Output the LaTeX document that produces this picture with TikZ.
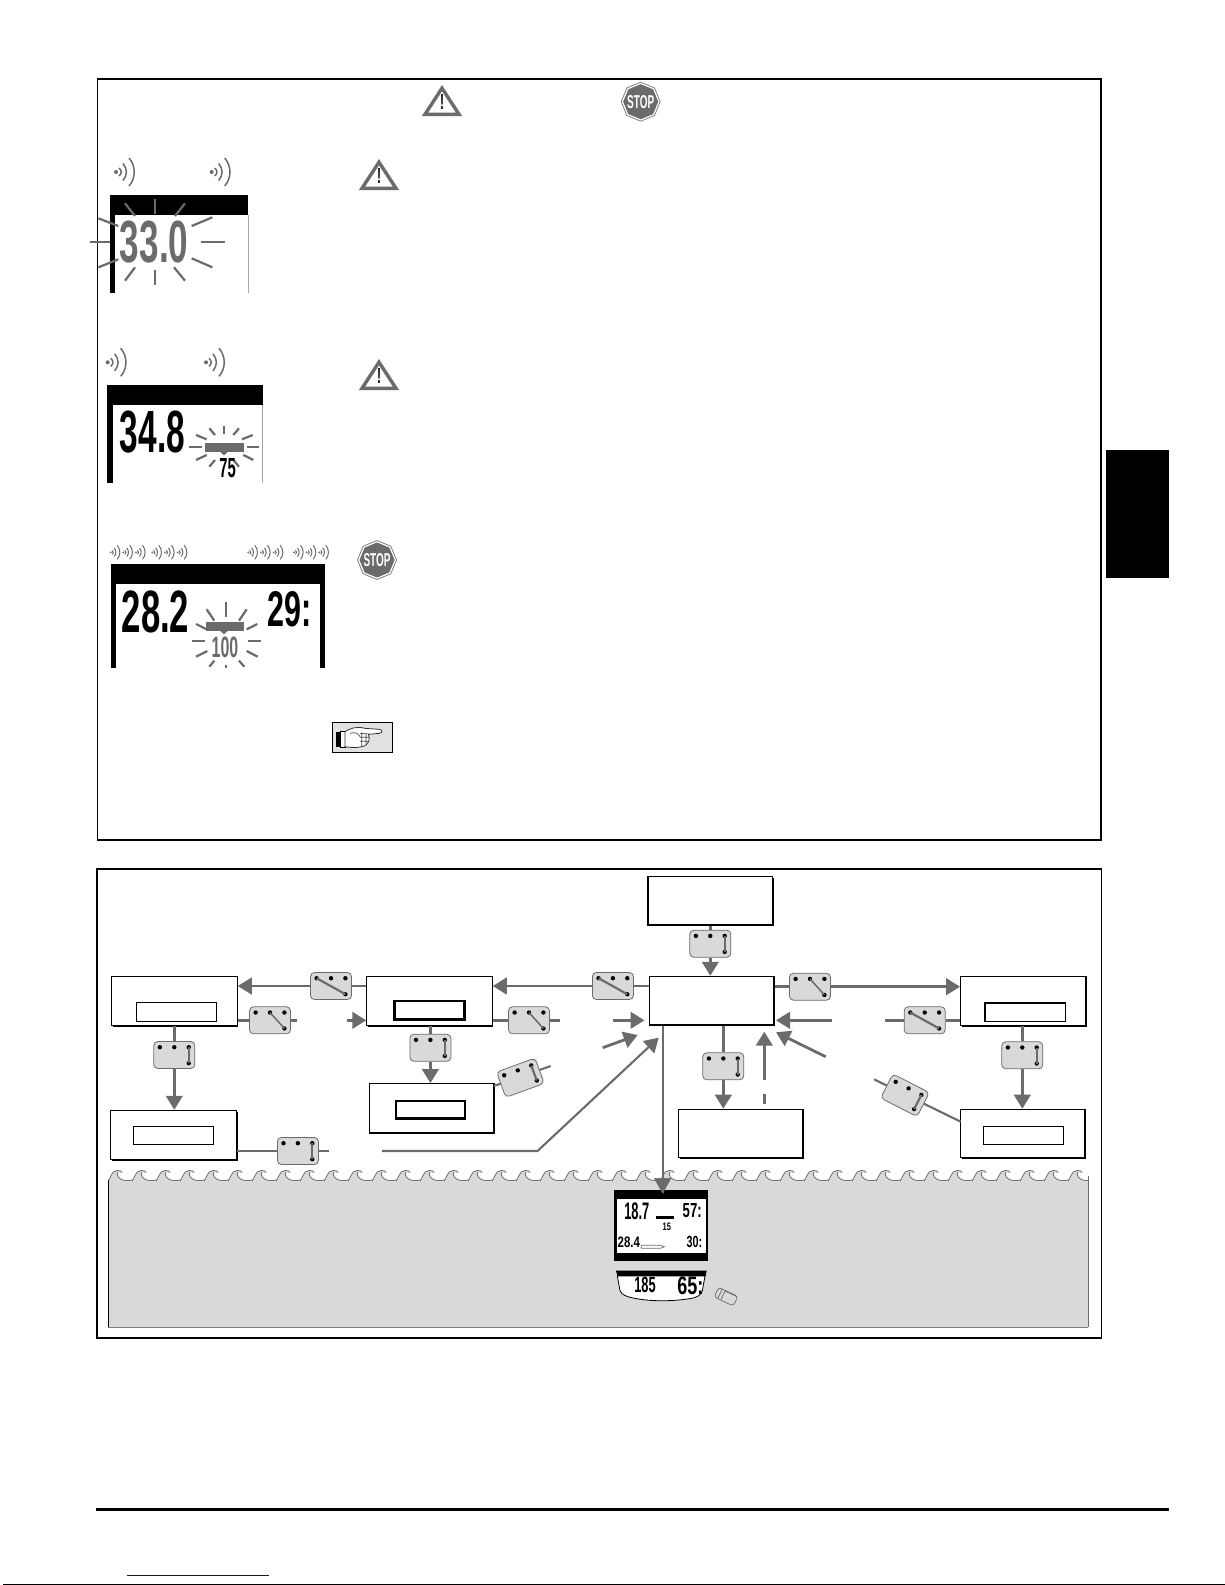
\documentclass[tikz,border=0pt]{standalone}
\usepackage{fontspec}
\setmainfont{Liberation Sans}
\newfontfamily\lcdfont{Liberation Sans}
\usetikzlibrary{arrows.meta,shapes.geometric,shadows}
\definecolor{cgray}{HTML}{6B6B6B}
\definecolor{lgray}{HTML}{D9D9D9}
\tikzset{
  frame/.style={draw=black,line width=1.5pt},
  fbox/.style={draw=black,fill=white,line width=1.2pt,inner sep=0pt,general shadow={fill=black,shadow xshift=1.2pt,shadow yshift=-1.2pt}},
  innerthin/.style={draw=black,fill=white,line width=0.9pt,inner sep=0pt},
  innerthick/.style={draw=black,fill=white,line width=2.4pt,inner sep=0pt},
  swbox/.style={draw=cgray,fill=lgray,line width=0.8pt,rounded corners=4pt,minimum width=41pt,minimum height=27pt,inner sep=0pt},
  conn/.style={draw=cgray,line width=2.8pt},
  thinconn/.style={draw=cgray,line width=2.1pt},
  arr/.style={conn,-{Triangle[length=14pt,width=16.5pt]}},
  thinarr/.style={thinconn,-{Triangle[length=14pt,width=16.5pt]}},
  ray/.style={draw=cgray,line width=2.2pt},
  stopouter/.style={regular polygon,regular polygon sides=8,shape border rotate=22.5,fill=white,draw=gray,line width=0.8pt,minimum size=39pt,inner sep=0pt},
  stopsign/.style={regular polygon,regular polygon sides=8,shape border rotate=22.5,fill=cgray,minimum size=35pt,inner sep=0pt},
  stoptext/.style={inner sep=0pt,text=white}
}
\newcommand{\lcdt}[7]{%
  \pgfmathsetmacro\cxx{(#2+#3)/2}\pgfmathsetmacro\cyy{(#4+#5)/2}%
  \pgfmathsetmacro\www{#3-#2}\pgfmathsetmacro\hhh{#5-#4}%
  \node[inner sep=0pt,text=#6] (#1) at (\cxx,\cyy) {\resizebox{\www pt}{\hhh pt}{\lcdfont\bfseries #7}};}
\newcommand{\swt}[5]{% name,x,y,rot,kind
  \node[swbox,rotate=#4] (#1) at (#2,#3) {};
  \begin{scope}[shift={(#2,#3)},rotate=#4]
    \fill[black] (-14.4,-7.8) circle (2.2) (0,-7.8) circle (2.2) (14.4,-7.8) circle (2.2) (14.4,8.2) circle (2.2);
    \ifcase#5\relax
      \draw[draw=cgray,line width=2.2pt] (-14.4,-7.8) -- (14.4,8.2);
    \or
      \draw[draw=cgray,line width=1.5pt] (0,-7.8) -- (14.4,8.2);
    \or
      \draw[draw=cgray,line width=2.2pt] (14.4,-7.8) -- (14.4,8.2);
    \fi
  \end{scope}}
\newcommand{\snd}[4]{% x,y,scale,line width
  \begin{scope}[shift={(#1,#2)},scale=#3]
    \fill[cgray] (0,0) circle (2);
    \draw[draw=cgray,line width=#4] (3,-4) .. controls (6,-1.5) and (6,1.5) .. (3,4);
    \draw[draw=cgray,line width=#4] (7,-8.5) .. controls (11.5,-3) and (11.5,3) .. (7,8.5);
    \draw[draw=cgray,line width=#4] (13,-14) .. controls (20,-6) and (20,6) .. (13,14);
  \end{scope}}
\newcommand{\warn}[3]{% name,x(apex),y(apex)
  \draw[cgray,line width=3.4pt,fill=white,line join=miter] (#2,#3+5.2) -- (#2+17,#3+31.3) -- (#2-17,#3+31.3) -- cycle;
  \node[inner sep=0pt,text=black] (#1) at (#2,#3+19) {\resizebox{4pt}{15pt}{\textbf{!}}};}
\begin{document}
\begin{tikzpicture}[x=1pt,y=-1pt]
\useasboundingbox (0,0) rectangle (1225,1585);
\fill[white] (0,0) rectangle (1225,1585);

% side tab, rule, link line, bottom line
\fill[black] (1106,450) rectangle (1169,577.7);
\fill[black] (96,1508) rectangle (1169,1511);
\draw[blue!80!black,line width=1pt] (127,1575.3) -- (269,1575.3);
\fill[black] (3,1584) rectangle (1225,1585);

% frames
\draw[frame] (97.3,79) rectangle (1101,840);
\draw[frame] (97,869) rectangle (1101.5,1338);

% warning icons
\warn{w1}{442}{83}
\warn{w2}{379}{157}
\warn{w3}{379}{357}
\node[stopouter] (stop1o) at (640.7,101.7) {};
\node[stopsign] (stop1i) at (640.7,101.7) {};
\node[stoptext] (stop1) at (640.7,101.7) {\resizebox{27pt}{13pt}{\textbf{STOP}}};
\node[stopouter] (stop2o) at (377,560) {};
\node[stopsign] (stop2i) at (377,560) {};
\node[stoptext] (stop2) at (377,560) {\resizebox{27pt}{13pt}{\textbf{STOP}}};

% sound icons
\snd{116}{172}{1}{1.5pt}\snd{211.7}{172}{1}{1.5pt}
\snd{107.7}{362.3}{1}{1.5pt}\snd{206}{362.3}{1}{1.5pt}
\foreach \sx in {110.7,123.3,136,152.3,165,177.7,248.3,261,273.7,294,306.7,319.3}{\snd{\sx}{552.3}{0.5}{1pt}}

% display 1
\fill[black] (110,195) rectangle (248.3,215);
\fill[black] (110,215) rectangle (115,293.3);
\draw[gray!70,line width=0.8pt] (248.3,215) -- (248.3,293.3);
\lcdt{d1a}{120}{188.3}{221.7}{263.3}{cgray}{33.0}
\begin{scope}[shift={(90,70)},scale=1/3]
\foreach \a/\b/\c/\d in {105/400/135/438,195/388/195/432,285/400/255/438,305/468/367/442,332/517/405/517,305/565/367/592,285/632/252/592,195/600/195/645,105/632/135/592,25/592/85/568,0/517/60/517,25/445/85/468}
  {\draw[ray] (\a,\b) -- (\c,\d);}
\end{scope}

% display 2
\fill[black] (107,385) rectangle (262.7,405);
\fill[black] (107,405) rectangle (112.7,483.3);
\draw[gray!70,line width=0.8pt] (262.7,405) -- (262.7,483.3);
\lcdt{d2a}{120}{185}{411.7}{453.3}{black}{34.8}
\begin{scope}[shift={(90,70)},scale=1/3]
\fill[cgray] (345,1118) rectangle (462,1145);
\fill[cgray] (390,1145) -- (414,1145) -- (402,1156) -- cycle;
\foreach \a/\b/\c/\d in {298/1132/335/1132,318/1095/350/1108,358/1075/375/1095,402/1067/402/1092,447/1075/430/1095,488/1095/456/1108,470/1132/508/1132,460/1155/490/1170,430/1170/447/1190,375/1170/358/1190,318/1170/350/1155}
  {\draw[ray] (\a,\b) -- (\c,\d);}
\end{scope}
\lcdt{d2b}{219.3}{235.7}{458.3}{477.3}{black}{75}

% display 3
\fill[black] (111,564) rectangle (325,584);
\fill[black] (111,584) rectangle (116,667.7);
\fill[black] (320,584) rectangle (325,667.7);
\lcdt{d3a}{121.7}{189.3}{591}{632.7}{black}{28.2}
\lcdt{d3b}{267.7}{311.7}{591.7}{626.7}{black}{29:}
\lcdt{d3c}{211.7}{238.3}{636.7}{657.3}{cgray}{100}
\begin{scope}[shift={(90,520)},scale=1/3]
\fill[cgray] (347,306) rectangle (462,332);
\fill[cgray] (390,332) -- (414,332) -- (402,343) -- cycle;
\foreach \a/\b/\c/\d in {408/245/408/290,350/268/373/302,470/268/447/302,318/312/350/328,502/312/470/328,307/362/345/362,475/362/513/362,318/410/352/393,503/410/470/393,358/440/373/422,463/440/447/422,408/436/408/443}
  {\draw[ray] (\a,\b) -- (\c,\d);}
\end{scope}

% hand icon
\node[draw=black,fill=lgray!80,line width=1pt,minimum width=60pt,minimum height=30pt,inner sep=0pt] (handbox) at (362.5,737) {};
\begin{scope}[shift={(90,520)},scale=1/3]
\fill[black] (737,635) rectangle (752,682);
\draw[fill=white,draw=black,line width=0.5pt] (752,635) rectangle (765,682);
\draw[fill=white,draw=black!80,line width=0.8pt] (765,635) .. controls (780,625) and (800,618) .. (825,625) -- (868,628) .. controls (878,630) and (878,638) .. (868,640) -- (835,643) .. controls (840,655) and (840,675) .. (815,680) .. controls (795,685) and (780,682) .. (765,680) -- cycle;
\draw[draw=black!70,line width=0.7pt] (810,640) -- (838,642) (810,652) -- (838,652) (810,664) -- (836,664) (815,638) -- (815,680) (828,642) -- (828,672) (780,640) .. controls (795,635) and (805,640) .. (810,650);
\end{scope}

% water
\fill[lgray] (108,1180) rectangle (1088,1327);
\begin{scope}
\clip (108,1160) rectangle (1088,1190);
\foreach \i [evaluate=\i as \wx using 108+24*\i] in {0,...,40}{
  \fill[lgray] (\wx,1181) .. controls (\wx+3,1178) and (\wx+3,1171) .. (\wx+9,1170.5) .. controls (\wx+12,1170.3) and (\wx+13,1171) .. (\wx+14,1172.5) .. controls (\wx+12,1172) and (\wx+10,1172) .. (\wx+9,1175) .. controls (\wx+10,1180) and (\wx+18,1181) .. (\wx+24,1180) -- (\wx+24,1182) -- (\wx,1182) -- cycle;
  \draw[draw=cgray,line width=0.8pt] (\wx,1181) .. controls (\wx+3,1178) and (\wx+3,1171) .. (\wx+9,1170.5) .. controls (\wx+12,1170.3) and (\wx+13,1171) .. (\wx+14,1172.5) (\wx+9.6,1172.3) .. controls (\wx+8.5,1175) and (\wx+10,1180) .. (\wx+18,1180.5) .. controls (\wx+20,1180.7) and (\wx+22,1180.5) .. (\wx+24,1180);
}
\end{scope}
\draw[black,line width=0.9pt] (108,1180) -- (108,1327);
\draw[cgray,line width=1pt] (1088,1176) -- (1088,1327.3);
\draw[gray,line width=1pt] (108,1327) -- (1088,1327);

% bottom display
\begin{scope}[shift={(590,1160)},scale=1/3]
\fill[black] (72,90) rectangle (354,302);
\fill[white] (80,118) rectangle (347,278);
\fill[black] (198,167) rectangle (252,178);
\draw[cgray,line width=0.7pt,fill=white] (155,256) -- (212,256) -- (223,260) -- (212,265) -- (155,265) .. controls (152,262) and (152,259) .. (155,256) -- cycle;
\fill[black] (78,332) -- (350,332) -- (347,348) -- (82,348) -- cycle;
\draw[black,line width=0.8pt,fill=white] (82,348) -- (90,392) .. controls (95,405) and (110,410) .. (130,414) .. controls (180,425) and (250,425) .. (310,414) .. controls (330,408) and (335,400) .. (337,392) -- (345,348) -- cycle;
\begin{scope}[rotate around={-25:(408,410)}]
\draw[cgray,line width=0.7pt,fill=lgray,rounded corners=3pt] (376,394) rectangle (440,426);
\draw[cgray,line width=0.7pt] (388,394) -- (388,426) (398,396) -- (398,424) (398,396) -- (438,396);
\end{scope}
\end{scope}
\lcdt{d4a}{624.3}{649.3}{1203.3}{1220}{black}{18.7}
\lcdt{d4b}{662.7}{671}{1223.3}{1230.7}{black}{15}
\lcdt{d4c}{682.7}{701.7}{1203.3}{1217.3}{black}{57:}
\lcdt{d4d}{617.7}{640}{1236.7}{1247.3}{black}{28.4}
\lcdt{d4e}{686.7}{702.3}{1236}{1247.3}{black}{30:}
\lcdt{d4f}{634.3}{655.7}{1277.3}{1292.7}{black}{185}
\lcdt{d4g}{677.3}{703.3}{1277.3}{1295}{black}{65:}

% connector free ends
\coordinate (endS2) at (297,1020.3);
\coordinate (startB) at (347,1020.3);
\coordinate (endS5) at (560,1020.3);
\coordinate (startM1) at (612.7,1020.3);
\coordinate (tipM1) at (644.5,1020.3);
\coordinate (startM2) at (602.7,1047.7);
\coordinate (tipM2) at (637.7,1035);
\coordinate (startM3) at (382,1151);
\coordinate (bendM3) at (537.5,1151);
\coordinate (tipM3) at (658.7,1037.7);
\coordinate (endS8) at (328.6,1151);
\coordinate (startM4) at (831.7,1020.3);
\coordinate (tipM4) at (776,1020.3);
\coordinate (startM5) at (825.7,1056.7);
\coordinate (tipM5) at (776,1032.3);
\coordinate (startM6) at (764.3,1080);
\coordinate (tipM6) at (764.3,1031.7);
\coordinate (dashA) at (764.3,1094);
\coordinate (dashB) at (764.3,1104);
\coordinate (endS11) at (885,1020.3);
\coordinate (endS14) at (874,1079.3);
\coordinate (startG) at (960.7,1121.7);
\coordinate (startC) at (493.9,1086);
\coordinate (endS7) at (550.7,1066);
\coordinate (tipLCD) at (662.7,1193.3);

% flow boxes
\node[fbox,minimum width=125.7pt,minimum height=49.3pt] (A) at (174.3,1001) {};
\node[innerthin,minimum width=80.4pt,minimum height=19pt] (Ai) at (176.6,1012.2) {};
\node[fbox,minimum width=125.3pt,minimum height=49.3pt] (B) at (429.5,1001) {};
\node[innerthick,minimum width=69.7pt,minimum height=18.3pt] (Bi) at (429.5,1010.2) {};
\node[fbox,minimum width=124.6pt,minimum height=49.3pt] (C) at (431.6,1108.3) {};
\node[innerthick,minimum width=69pt,minimum height=17.3pt] (Ci) at (430.5,1109.7) {};
\node[fbox,minimum width=125.7pt,minimum height=49.3pt] (D) at (173.5,1135) {};
\node[innerthin,minimum width=80.4pt,minimum height=18.3pt] (Di) at (173.4,1135.5) {};
\node[fbox,minimum width=124.7pt,minimum height=48.7pt] (T) at (710.3,900.7) {};
\node[fbox,minimum width=124.3pt,minimum height=48.7pt] (M) at (711.8,1000.7) {};
\node[fbox,minimum width=124.3pt,minimum height=48.4pt] (E) at (740.8,1133.5) {};
\node[fbox,minimum width=125.3pt,minimum height=49.3pt] (F) at (1023.3,1001) {};
\node[draw=black,fill=white,line width=1.6pt,inner sep=0pt,minimum width=80.6pt,minimum height=18.6pt] (Fi) at (1025,1012) {};
\node[fbox,minimum width=124.3pt,minimum height=48.4pt] (G) at (1022.8,1133.5) {};
\node[innerthin,minimum width=80pt,minimum height=18pt] (Gi) at (1023.3,1135.3) {};

% connectors beneath switches
\draw[thinconn] (M.south -| tipLCD) -- (tipLCD);
\draw[draw=cgray,fill=cgray] (tipLCD) -- ++(-8.3,-15) -- ++(16.6,0) -- cycle;
\draw[thinconn] (startC) -- (endS7);
\draw[thinconn] (startG) -- (endS14);

\swt{S1}{331}{986}{0}{0}
\swt{S2}{270}{1020.3}{0}{1}
\swt{S3}{174.3}{1055}{0}{2}
\swt{S4}{612.9}{986}{0}{0}
\swt{S5}{529}{1020.3}{0}{1}
\swt{S6}{430.4}{1047.7}{0}{2}
\swt{S7}{520.4}{1077.7}{20}{2}
\swt{S8}{297.9}{1151}{0}{2}
\swt{S9}{710.3}{943.7}{0}{2}
\swt{S10}{810}{986.7}{0}{1}
\swt{S11}{924.7}{1020.3}{0}{0}
\swt{S12}{723.3}{1066.3}{0}{2}
\swt{S13}{1022.3}{1055.3}{0}{2}
\swt{S14}{905}{1095.3}{-27}{2}

% connectors
\draw[arr] (S1.west) -- (S1.west -| A.east);
\draw[conn] (S1.east) -- (S1.east -| B.west);
\draw[conn] (S2.west -| A.east) -- (S2.west);
\draw[conn] (S2.east) -- (endS2);
\draw[arr] (startB) -- (startB -| B.west);
\draw[conn] (S3 |- A.south) -- (S3.north);
\draw[arr] (S3.south) -- (S3 |- D.north);
\draw[arr] (S4.west) -- (S4.west -| B.east);
\draw[conn] (S4.east) -- (S4.east -| M.west);
\draw[conn] (S5.west -| B.east) -- (S5.west);
\draw[conn] (S5.east) -- (endS5);
\draw[arr] (startM1) -- (tipM1);
\draw[arr] (startM2) -- (tipM2);
\draw[thinarr] (startM3) -- (bendM3) -- (tipM3);
\draw[thinconn] (S8.west -| D.east) -- (S8.west);
\draw[thinconn] (S8.east) -- (endS8);
\draw[conn] (S6 |- B.south) -- (S6.north);
\draw[arr] (S6.south) -- (S6 |- C.north);
\draw[conn] (S9 |- T.south) -- (S9.north);
\draw[arr] (S9.south) -- (S9 |- M.north);
\draw[conn] (S10.west -| M.east) -- (S10.west);
\draw[arr] (S10.east) -- (S10.east -| F.west);
\draw[conn] (S11.east) -- (S11.east -| F.west);
\draw[conn] (S11.west) -- (endS11);
\draw[arr] (startM4) -- (tipM4);
\draw[arr] (startM5) -- (tipM5);
\draw[arr] (startM6) -- (tipM6);
\draw[conn] (dashA) -- (dashB);
\draw[conn] (S12 |- M.south) -- (S12.north);
\draw[arr] (S12.south) -- (S12 |- E.north);
\draw[conn] (S13 |- F.south) -- (S13.north);
\draw[arr] (S13.south) -- (S13 |- G.north);
\end{tikzpicture}
\end{document}
